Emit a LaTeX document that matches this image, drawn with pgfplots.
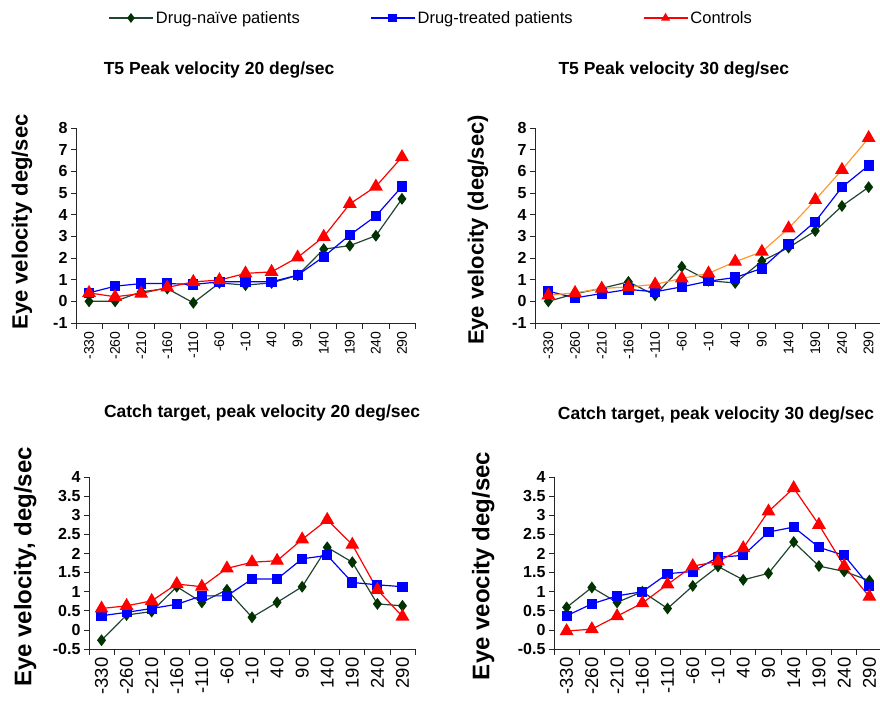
\documentclass[border=0pt]{standalone}
\usepackage{fontspec}
\setmainfont{Liberation Sans}
\usepackage{pgfplots}
\pgfplotsset{compat=1.18}

\definecolor{naiveline}{RGB}{34,68,51}
\definecolor{naivemark}{RGB}{0,51,0}
\definecolor{ctrlorange}{RGB}{255,153,51}

\pgfplotsset{
  panel/.style={
    scale only axis,
    axis x line=bottom, axis y line=left,
    axis line style={-, black!85, line width=0.8pt},
    xmin=0.5, xmax=13.5,
    xtick={1,...,13},
    xticklabels={-330,-260,-210,-160,-110,-60,-10,40,90,140,190,240,290},
    major x tick style={draw=none},
    minor xtick={0.5,1.5,...,13.5},
    tick align=outside,
    major tick length=5pt, minor tick length=6pt,
    tick style={black!85, line width=0.8pt},
    xticklabel style={rotate=90, anchor=east},
    yticklabel style={font=\bfseries\fontsize{16}{16}\selectfont},
    /pgf/number format/assume math mode=true,
    clip=false,
    title style={anchor=center, yshift=0pt, font=\bfseries\fontsize{17.5}{18}\selectfont},
    ylabel style={anchor=center},
  },
  naive/.style={color=naiveline, line width=1.2pt, mark=diamond*, mark size=5pt,
    mark options={fill=naivemark, draw=naivemark, solid}},
  treated/.style={color=blue, line width=1.2pt, mark=square*, mark size=4.5pt,
    mark options={fill=blue, draw=blue}},
  ctrl/.style={color=red, line width=1.2pt, mark=triangle*, mark size=6.8pt,
    mark options={fill=red, draw=red}},
}

\begin{document}
\begin{tikzpicture}
\path[use as bounding box] (0pt,0pt) rectangle (880pt,-702pt);
\clip (0pt,0pt) rectangle (880pt,-702pt);

% top left
\begin{axis}[panel,
  at={(76pt,-323pt)}, anchor=south west, width=339pt, height=195pt,
  ymin=-1, ymax=8, ytick={-1,0,...,8},
  xticklabel style={font=\fontsize{14}{14}\selectfont},
  title={T5 Peak velocity 20 deg/sec},
  title style={at={(axis description cs:0.422,1.267)}},
  ylabel={Eye velocity deg/sec},
  ylabel style={at={(axis description cs:-0.159,0.518)}, font=\bfseries\fontsize{22}{22}\selectfont},
  legend columns=3,
  legend style={at={(axis description cs:0.094,1.564)}, anchor=west, draw=none, fill=none,
    inner sep=0pt, font=\fontsize{16.5}{17}\selectfont,
    /tikz/every even column/.append style={column sep=68pt}},
  legend image code/.code={\draw[mark repeat=2, mark phase=2, #1, line width=1.8pt, mark size=3.5pt]
    plot coordinates {(0pt,0pt) (22pt,0pt) (44pt,0pt)};},
]
\addplot[naive] coordinates {(1,0) (2,0) (3,0.44) (4,0.59) (5,-0.07) (6,0.85) (7,0.75) (8,0.85) (9,1.2) (10,2.41) (11,2.57) (12,3.03) (13,4.73)};
\addlegendentry{Drug-naïve patients}
\addplot[treated] coordinates {(1,0.39) (2,0.7) (3,0.82) (4,0.82) (5,0.78) (6,0.9) (7,0.9) (8,0.9) (9,1.21) (10,2.06) (11,3.06) (12,3.94) (13,5.3)};
\addlegendentry{Drug-treated patients}
\addplot[ctrl] coordinates {(1,0.39) (2,0.21) (3,0.36) (4,0.64) (5,0.9) (6,0.98) (7,1.29) (8,1.36) (9,2.03) (10,2.98) (11,4.5) (12,5.3) (13,6.66)};
\addlegendentry{Controls}
\end{axis}

% top right
\begin{axis}[panel,
  at={(535pt,-323pt)}, anchor=south west, width=347pt, height=195pt,
  ymin=-1, ymax=8, ytick={-1,0,...,8},
  xticklabel style={font=\fontsize{14}{14}\selectfont},
  title={T5 Peak velocity 30 deg/sec},
  title style={at={(axis description cs:0.40,1.267)}},
  ylabel={Eye velocity (deg/sec)},
  ylabel style={at={(axis description cs:-0.164,0.477)}, font=\bfseries\fontsize{22}{22}\selectfont},
]
\addplot[naive] coordinates {(1,0) (2,0.35) (3,0.6) (4,0.9) (5,0.28) (6,1.6) (7,0.95) (8,0.85) (9,1.86) (10,2.48) (11,3.25) (12,4.4) (13,5.27)};
\addplot[treated] coordinates {(1,0.47) (2,0.16) (3,0.36) (4,0.55) (5,0.44) (6,0.67) (7,0.93) (8,1.1) (9,1.52) (10,2.63) (11,3.68) (12,5.27) (13,6.27)};
\addplot[ctrl, color=ctrlorange, mark options={fill=red, draw=red}] coordinates {(1,0.28) (2,0.39) (3,0.59) (4,0.67) (5,0.78) (6,1.06) (7,1.29) (8,1.83) (9,2.29) (10,3.37) (11,4.68) (12,6.07) (13,7.54)};
\end{axis}

% bottom left
\begin{axis}[panel,
  at={(89pt,-649pt)}, anchor=south west, width=326pt, height=172pt,
  ymin=-0.5, ymax=4, ytick={-0.5,0,...,4},
  xticklabel style={font=\fontsize{18.5}{18.5}\selectfont},
  title={Catch target, peak velocity 20 deg/sec},
  title style={at={(axis description cs:0.531,1.337)}},
  ylabel={Eye velocity, deg/sec},
  ylabel style={at={(axis description cs:-0.196,0.477)}, font=\bfseries\fontsize{24}{24}\selectfont},
]
\addplot[naive] coordinates {(1,-0.27) (2,0.39) (3,0.48) (4,1.13) (5,0.72) (6,1.05) (7,0.33) (8,0.72) (9,1.13) (10,2.16) (11,1.77) (12,0.68) (13,0.63)};
\addplot[treated] coordinates {(1,0.37) (2,0.46) (3,0.56) (4,0.67) (5,0.89) (6,0.89) (7,1.33) (8,1.33) (9,1.86) (10,1.95) (11,1.24) (12,1.18) (13,1.13)};
\addplot[ctrl] coordinates {(1,0.56) (2,0.63) (3,0.76) (4,1.2) (5,1.13) (6,1.61) (7,1.77) (8,1.81) (9,2.37) (10,2.88) (11,2.23) (12,1.05) (13,0.35)};
\end{axis}

% bottom right
\begin{axis}[panel,
  at={(554pt,-649pt)}, anchor=south west, width=328pt, height=172pt,
  ymin=-0.5, ymax=4, ytick={-0.5,0,...,4},
  xticklabel style={font=\fontsize{18.5}{18.5}\selectfont},
  title={Catch target, peak velocity 30 deg/sec},
  title style={at={(axis description cs:0.494,1.325)}},
  ylabel={Eye veocity deg/sec},
  ylabel style={at={(axis description cs:-0.216,0.483)}, font=\bfseries\fontsize{24}{24}\selectfont},
]
\addplot[naive] coordinates {(1,0.59) (2,1.11) (3,0.72) (4,1.0) (5,0.56) (6,1.15) (7,1.66) (8,1.31) (9,1.48) (10,2.3) (11,1.67) (12,1.53) (13,1.29)};
\addplot[treated] coordinates {(1,0.37) (2,0.68) (3,0.89) (4,1.0) (5,1.47) (6,1.53) (7,1.9) (8,1.95) (9,2.56) (10,2.69) (11,2.16) (12,1.95) (13,1.15)};
\addplot[ctrl] coordinates {(1,-0.03) (2,0.02) (3,0.36) (4,0.7) (5,1.19) (6,1.67) (7,1.79) (8,2.14) (9,3.1) (10,3.71) (11,2.75) (12,1.67) (13,0.87)};
\end{axis}
\end{tikzpicture}
\end{document}
